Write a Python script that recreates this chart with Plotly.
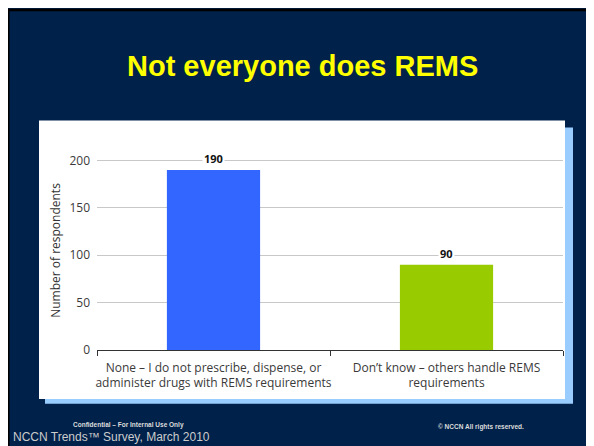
import plotly.graph_objects as go

categories = [
    "None – I do not prescribe, dispense, or<br>administer drugs with REMS requirements",
    "Don’t know – others handle REMS<br>requirements",
]
values = [190, 90]
bar_colors = ["#3366FF", "#99CC00"]
y_ticks = [0, 50, 100, 150, 200]
title_text = "Not everyone does REMS"
y_title = "Number of respondents"

# page body has an 8px margin, so the figure is placed at (8, 8) in the window
OFF = 8
W, H = 594 - OFF, 446 - OFF
# plot area bounds in window pixels
WL, WR, WT, WB = 97, 563, 150.5, 350
NAVY = "#00214A"


def px(x):
    return (x - WL) / (WR - WL)


def py(y):
    return (WB - y) / (WB - WT)


fig = go.Figure()
fig.add_trace(go.Bar(
    x=categories, y=values, marker=dict(color=bar_colors, line=dict(width=0)),
    width=0.40, hoverinfo="skip",
))

for c, v in zip(categories, values):
    fig.add_annotation(
        x=c, y=v, text=f"<b>{v}</b>", showarrow=False, yanchor="bottom", yshift=2,
        bgcolor="white", borderpad=1,
        font=dict(family="Open Sans, DejaVu Sans, sans-serif", size=11, color="#111"),
    )

shapes = []
# black frame along figure top/left edge
shapes.append(dict(type="rect", xref="paper", yref="paper", x0=px(0), x1=px(600), y0=py(8), y1=py(10.5),
                   fillcolor="#000000", line=dict(width=0), layer="below"))
shapes.append(dict(type="rect", xref="paper", yref="paper", x0=px(0), x1=px(9.5), y0=py(8), y1=py(460),
                   fillcolor="#000000", line=dict(width=0), layer="below"))
# shadow
shapes.append(dict(type="rect", xref="paper", yref="paper", x0=px(45), x1=px(573), y0=py(127), y1=py(404),
                   fillcolor="#99CCFF", line=dict(width=0), layer="below"))
# white chart box
shapes.append(dict(type="rect", xref="paper", yref="paper", x0=px(39), x1=px(565), y0=py(120), y1=py(399),
                   fillcolor="white", line=dict(width=0), layer="below"))

annotations = [
    dict(text=f"<b>{title_text}</b>", xref="paper", yref="paper", x=px(302), y=py(65),
         showarrow=False, xanchor="center", yanchor="middle",
         font=dict(family="Liberation Sans, Arial, sans-serif", size=29, color="#FFFF00")),
    dict(text="<b>Confidential – For Internal Use Only</b>", xref="paper", yref="paper",
         x=px(128), y=py(425), showarrow=False, xanchor="center", yanchor="middle",
         font=dict(family="Liberation Sans, Arial, sans-serif", size=6.5, color="#DDDDDD")),
    dict(text="<b>© NCCN All rights reserved.</b>", xref="paper", yref="paper",
         x=px(481), y=py(427), showarrow=False, xanchor="center", yanchor="middle",
         font=dict(family="Liberation Sans, Arial, sans-serif", size=6.5, color="#DDDDDD")),
    dict(text="NCCN Trends™ Survey, March 2010", xref="paper", yref="paper",
         x=px(11), y=py(446), showarrow=False, xanchor="left", yanchor="bottom",
         font=dict(family="Liberation Sans, Arial, sans-serif", size=12, color="#CCCCCC")),
]

fig.update_layout(
    width=W, height=H,
    margin=dict(l=WL - OFF, r=W - (WR - OFF), t=WT - OFF, b=H - (WB - OFF), pad=0,
                autoexpand=False),
    paper_bgcolor=NAVY, plot_bgcolor="rgba(0,0,0,0)",
    showlegend=False,
    shapes=shapes,
    annotations=list(fig.layout.annotations) + annotations,
    font=dict(family="Open Sans, DejaVu Sans, sans-serif", size=12, color="#333333"),
    xaxis=dict(
        showgrid=False, showline=True, linecolor="#333333", linewidth=1.2,
        ticks="outside", tickson="boundaries", ticklen=5, tickcolor="#333333",
        tickangle=0, automargin=False, ticklabelstandoff=6,
        tickfont=dict(size=12, color="#3A3A3A"),
    ),
    yaxis=dict(
        range=[0, 210], tickvals=y_ticks, showgrid=True, gridcolor="#C8C8C8", gridwidth=1.2,
        zeroline=False, showline=False, ticks="", ticklabelstandoff=6, automargin=False,
        tickfont=dict(size=12, color="#3A3A3A"),
        title=dict(text=y_title, standoff=6, font=dict(size=12, color="#333333")),
    ),
    bargap=0.6,
)

fig.write_html("out.html")
